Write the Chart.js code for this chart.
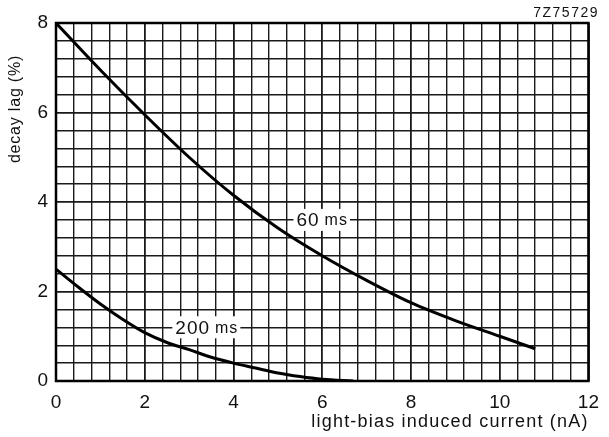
<!DOCTYPE html>
<html><head><meta charset="utf-8">
<script src="https://cdn.jsdelivr.net/npm/chart.js@4"></script>
<style>html,body{margin:0;padding:0;background:#fff}#wrap{width:609px;height:437px}</style>
</head><body><div id="wrap"><canvas id="c" width="609" height="437"></canvas></div>
<script>
const curve60X = [0, 1, 2, 3, 4, 5, 6, 7, 8, 9, 10, 10.8];
const curve60Y = [8.0, 6.95, 5.95, 5.0, 4.15, 3.42, 2.8, 2.25, 1.75, 1.35, 1.0, 0.72];
const curve200X = [0, 0.5, 1, 1.5, 2, 2.5, 3, 3.5, 4, 4.5, 5, 5.5, 6, 6.7];
const curve200Y = [2.5, 2.1, 1.72, 1.38, 1.08, 0.86, 0.7, 0.53, 0.4, 0.29, 0.18, 0.1, 0.04, 0];
const xTickLabels = ['0', '2', '4', '6', '8', '10', '12'];
const yTickLabels = ['0', '2', '4', '6', '8'];
const curveLabelNum = ['60', '200'];
const curveLabelUnit = ['ms', 'ms'];
const curveLabelX = [6.0, 3.4];
const curveLabelY = [3.6, 1.2];
const yTitle = 'decay lag (%)';
const xTitle = 'light-bias induced current (nA)';
const codeText = '7Z75729';

const FONT = '"Liberation Sans", Arial, Helvetica, sans-serif';
const pts = (xs, ys) => xs.map((x, i) => ({x, y: ys[i]}));
const isMajor = v => Math.abs(v / 2 - Math.round(v / 2)) < 1e-6;
const gridTicks = (max) => Array.from({length: Math.round(max / 0.4) + 1}, (_, i) => ({value: +(i * 0.4).toFixed(1)}));

const deco = {
  id: 'deco',
  afterDatasetsDraw(chart) {
    const {ctx, chartArea: a, scales: {x, y}} = chart;
    ctx.save();
    for (let i = 0; i < curveLabelNum.length; i++) {
      const cx = x.getPixelForValue(curveLabelX[i]);
      const cy = y.getPixelForValue(curveLabelY[i]);
      ctx.letterSpacing = '1px';
      ctx.font = '19px ' + FONT;
      const wn = ctx.measureText(curveLabelNum[i]).width;
      ctx.font = '16px ' + FONT;
      const wu = ctx.measureText(curveLabelUnit[i]).width;
      const gap = 5;
      const w = wn + gap + wu;
      const x0 = cx - w / 2;
      ctx.fillStyle = '#fff';
      ctx.fillRect(x0 - 3, cy - 11, w + 5, 22);
      ctx.fillStyle = '#111';
      ctx.textBaseline = 'middle';
      ctx.textAlign = 'left';
      ctx.font = '19px ' + FONT;
      ctx.fillText(curveLabelNum[i], x0, cy + 1);
      ctx.font = '16px ' + FONT;
      ctx.fillText(curveLabelUnit[i], x0 + wn + gap, cy + 1);
    }
    ctx.letterSpacing = '0px';
    ctx.strokeStyle = '#000';
    ctx.lineWidth = 2.5;
    ctx.strokeRect(a.left, a.top, a.right - a.left, a.bottom - a.top);
    ctx.fillStyle = '#111';
    ctx.textAlign = 'center';
    ctx.textBaseline = 'middle';
    ctx.letterSpacing = '1.2px';
    ctx.font = '18px ' + FONT;
    ctx.fillText(xTitle, 450, 422);
    ctx.save();
    ctx.translate(16, 109);
    ctx.rotate(-Math.PI / 2);
    ctx.letterSpacing = '0.8px';
    ctx.font = '16px ' + FONT;
    ctx.fillText(yTitle, 0, 0);
    ctx.restore();
    ctx.letterSpacing = '1.5px';
    ctx.font = '14px ' + FONT;
    ctx.textAlign = 'right';
    ctx.fillText(codeText, 599, 13);
    ctx.restore();
  }
};

new Chart(document.getElementById('c'), {
  type: 'line',
  data: {
    datasets: [
      {label: '60 ms', data: pts(curve60X, curve60Y), borderColor: '#000', borderWidth: 3, pointRadius: 0, tension: 0.4, cubicInterpolationMode: 'monotone', fill: false},
      {label: '200 ms', data: pts(curve200X, curve200Y), borderColor: '#000', borderWidth: 3, pointRadius: 0, tension: 0.4, cubicInterpolationMode: 'monotone', fill: false}
    ]
  },
  options: {
    responsive: false,
    devicePixelRatio: 1,
    animation: false,
    layout: {padding: {top: 23, right: 12, left: 0, bottom: 0}},
    plugins: {legend: {display: false}, tooltip: {enabled: false}, title: {display: false}},
    scales: {
      x: {
        type: 'linear', min: 0, max: 12,
        afterBuildTicks: s => { s.ticks = gridTicks(12); },
        afterFit: s => { s.height = 56; },
        ticks: {autoSkip: false, maxRotation: 0, padding: 10, color: '#111', font: {family: FONT, size: 19},
          callback: v => isMajor(v) ? xTickLabels[Math.round(v / 2)] : ''},
        grid: {color: '#1a1a1a', drawTicks: false, lineWidth: c => isMajor(c.tick.value) ? 1.8 : 1.4},
        border: {display: false}
      },
      y: {
        type: 'linear', min: 0, max: 8,
        afterBuildTicks: s => { s.ticks = gridTicks(8); },
        afterFit: s => { s.width = 56; },
        ticks: {autoSkip: false, padding: 8, color: '#111', font: {family: FONT, size: 19},
          callback: v => isMajor(v) ? yTickLabels[Math.round(v / 2)] : ''},
        grid: {color: '#1a1a1a', drawTicks: false, lineWidth: c => isMajor(c.tick.value) ? 1.8 : 1.4},
        border: {display: false}
      }
    }
  },
  plugins: [deco]
});
</script></body></html>
